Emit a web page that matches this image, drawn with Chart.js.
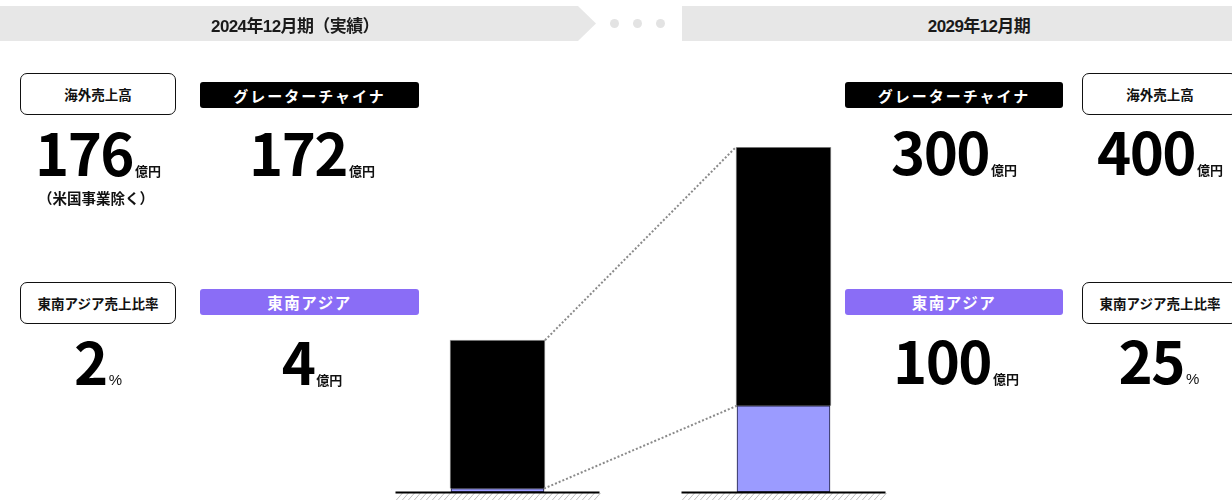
<!DOCTYPE html>
<html lang="ja">
<head>
<meta charset="utf-8">
<title>東南アジア売上比率</title>
<script src="https://cdn.jsdelivr.net/npm/chart.js@4.4.1/dist/chart.umd.min.js"></script>
<style>
  html, body { margin: 0; padding: 0; background: #fff; }
  #wrap { position: relative; width: 1232px; height: 500px; overflow: hidden; font-family: "Noto Sans CJK JP", "Noto Sans", sans-serif; color: #111; }
  #chart { position: absolute; left: 0; top: 0; }
  .banner { position: absolute; top: 6px; height: 35px; background: #e7e7e7; }
  .banner-text { position: absolute; top: 7px; height: 35px; display: flex; align-items: center; justify-content: center; font: 700 17px "Liberation Sans", "Noto Sans CJK JP", sans-serif; letter-spacing: -0.6px; color: #1a1a1a; white-space: nowrap; }
  .dot { position: absolute; width: 9px; height: 9px; border-radius: 50%; background: #e3e3e3; top: 19px; }
  .tag { position: absolute; box-sizing: border-box; display: flex; align-items: center; justify-content: center; font-weight: 700; white-space: nowrap; }
  .tag.outline { height: 42px; border: 1px solid #111; border-radius: 7px; font-size: 13.5px; color: #111; background: #fff; }
  .tag.black { height: 26px; border-radius: 3px; background: #000; color: #fff; font-size: 15px; letter-spacing: 2px; }
  .tag.purple { height: 26px; border-radius: 3px; background: #8a6df6; color: #fff; font-size: 15.5px; letter-spacing: 1.5px; }
  .num { position: absolute; text-align: center; white-space: nowrap; font-weight: 700; font-size: 58px; line-height: 58px; letter-spacing: -1.5px; color: #000; }
  .num .unit { font-size: 13px; letter-spacing: 0; margin-left: 2px; color: #111; }
  .num .pct { font: 400 15px "Liberation Sans", sans-serif; letter-spacing: 0; margin-left: 2px; color: #111; }
  .note { position: absolute; font-weight: 700; font-size: 14.5px; white-space: nowrap; text-align: center; color: #111; }
</style>
</head>
<body>
<div id="wrap">
  <canvas id="chart" width="1232" height="500"></canvas>

  <div class="banner" style="left:0; width:596px; clip-path: polygon(0 0, 578px 0, 596px 50%, 578px 100%, 0 100%);"></div>
  <div class="banner-text" id="period0" style="left:175px; width:240px;"></div>
  <div class="dot" style="left:610px;"></div>
  <div class="dot" style="left:633px;"></div>
  <div class="dot" style="left:656px;"></div>
  <div class="banner" style="left:682px; width:550px;"></div>
  <div class="banner-text" id="period1" style="left:859px; width:240px;"></div>

  <!-- 2024 side -->
  <div class="tag outline" style="left:20px; top:73px; width:156px;">海外売上高</div>
  <div class="num" id="total0" style="left:0; width:196px; top:122px;"></div>
  <div class="note" style="left:0; width:192px; top:187px;">（米国事業除く）</div>
  <div class="tag black" style="left:200px; top:82px; width:219px;">グレーターチャイナ</div>
  <div class="num" id="gc0" style="left:212px; width:200px; top:122px;"></div>

  <div class="tag outline" style="left:20px; top:282px; width:156px;">東南アジア売上比率</div>
  <div class="num" id="ratio0" style="left:0; width:196px; top:331px;"></div>
  <div class="tag purple" style="left:200px; top:289px; width:219px;">東南アジア</div>
  <div class="num" id="sea0" style="left:212px; width:200px; top:331px;"></div>

  <!-- 2029 side -->
  <div class="tag black" style="left:845px; top:82px; width:218px;">グレーターチャイナ</div>
  <div class="num" id="gc1" style="left:854px; width:200px; top:121px;"></div>
  <div class="tag outline" style="left:1082px; top:73px; width:156px;">海外売上高</div>
  <div class="num" id="total1" style="left:1060px; width:200px; top:121px;"></div>

  <div class="tag purple" style="left:845px; top:289px; width:218px;">東南アジア</div>
  <div class="num" id="sea1" style="left:856px; width:200px; top:330px;"></div>
  <div class="tag outline" style="left:1082px; top:282px; width:156px;">東南アジア売上比率</div>
  <div class="num" id="ratio1" style="left:1059px; width:200px; top:330px;"></div>
</div>

<script>
// values in 億円
const periods = ['2024年12月期（実績）', '2029年12月期'];
const greaterChina = [172, 300];
const southeastAsia = [4, 100];
const yMax = 400;

const overseasTotal = greaterChina.map((v, i) => v + southeastAsia[i]);
const seaRatio = southeastAsia.map((v, i) => Math.round(v / overseasTotal[i] * 100));

function setNum(id, value, unit, cls) {
    const el = document.getElementById(id);
    el.textContent = String(value);
    const u = document.createElement('span');
    u.className = cls || 'unit';
    u.textContent = unit;
    el.appendChild(u);
}

periods.forEach((p, i) => {
    document.getElementById('period' + i).textContent = p;
    setNum('total' + i, overseasTotal[i], '億円');
    setNum('gc' + i, greaterChina[i], '億円');
    setNum('sea' + i, southeastAsia[i], '億円');
    setNum('ratio' + i, seaRatio[i], '%', 'pct');
});

// dotted guides between the two stacks
const connectorPlugin = {
    id: 'connectors',
    afterDatasetsDraw(chart) {
        const ctx = chart.ctx;
        ctx.save();
        ctx.strokeStyle = '#8a8a8a';
        ctx.lineWidth = 2;
        ctx.setLineDash([2, 2]);
        chart.data.datasets.forEach((ds, d) => {
            const bars = chart.getDatasetMeta(d).data;
            const a = bars[0], b = bars[1];
            ctx.beginPath();
            ctx.moveTo(a.x + a.width / 2, a.y);
            ctx.lineTo(b.x - b.width / 2, b.y);
            ctx.stroke();
        });
        ctx.restore();
    }
};

// ground line with hatching under each stack
const groundPlugin = {
    id: 'ground',
    afterDatasetsDraw(chart) {
        const ctx = chart.ctx;
        const y0 = chart.scales.y.getPixelForValue(0);
        ctx.save();
        periods.forEach((p, i) => {
            const cx = chart.scales.x.getPixelForValue(i);
            const left = cx - 102, right = cx + 102;
            ctx.strokeStyle = '#bdbdbd';
            ctx.lineWidth = 1;
            ctx.beginPath();
            for (let x = left; x < right; x += 6) {
                ctx.moveTo(x, y0 + 9);
                ctx.lineTo(x + 7, y0 + 1);
            }
            ctx.stroke();
            ctx.strokeStyle = '#000';
            ctx.lineWidth = 2.2;
            ctx.beginPath();
            ctx.moveTo(left, y0 + 0.5);
            ctx.lineTo(right, y0 + 0.5);
            ctx.stroke();
        });
        ctx.restore();
    }
};

new Chart(document.getElementById('chart'), {
    type: 'bar',
    data: {
        labels: periods,
        datasets: [
            {
                label: '東南アジア',
                data: southeastAsia,
                backgroundColor: '#9b9bff',
                borderColor: '#1c1c3a',
                borderWidth: 1,
                borderSkipped: false,
                barThickness: 93
            },
            {
                label: 'グレーターチャイナ',
                data: greaterChina,
                backgroundColor: '#000',
                borderColor: '#9a9a9a',
                borderWidth: 1,
                borderSkipped: 'bottom',
                barThickness: 95
            }
        ]
    },
    options: {
        responsive: false,
        animation: false,
        layout: { padding: { left: 354.5, right: 305.5, top: 147, bottom: 8 } },
        scales: {
            x: { stacked: true, display: false, offset: true, grid: { display: false } },
            y: { stacked: true, display: false, min: 0, max: yMax, grid: { display: false } }
        },
        plugins: {
            legend: { display: false },
            tooltip: { enabled: false }
        }
    },
    plugins: [connectorPlugin, groundPlugin]
});
</script>
</body>
</html>
